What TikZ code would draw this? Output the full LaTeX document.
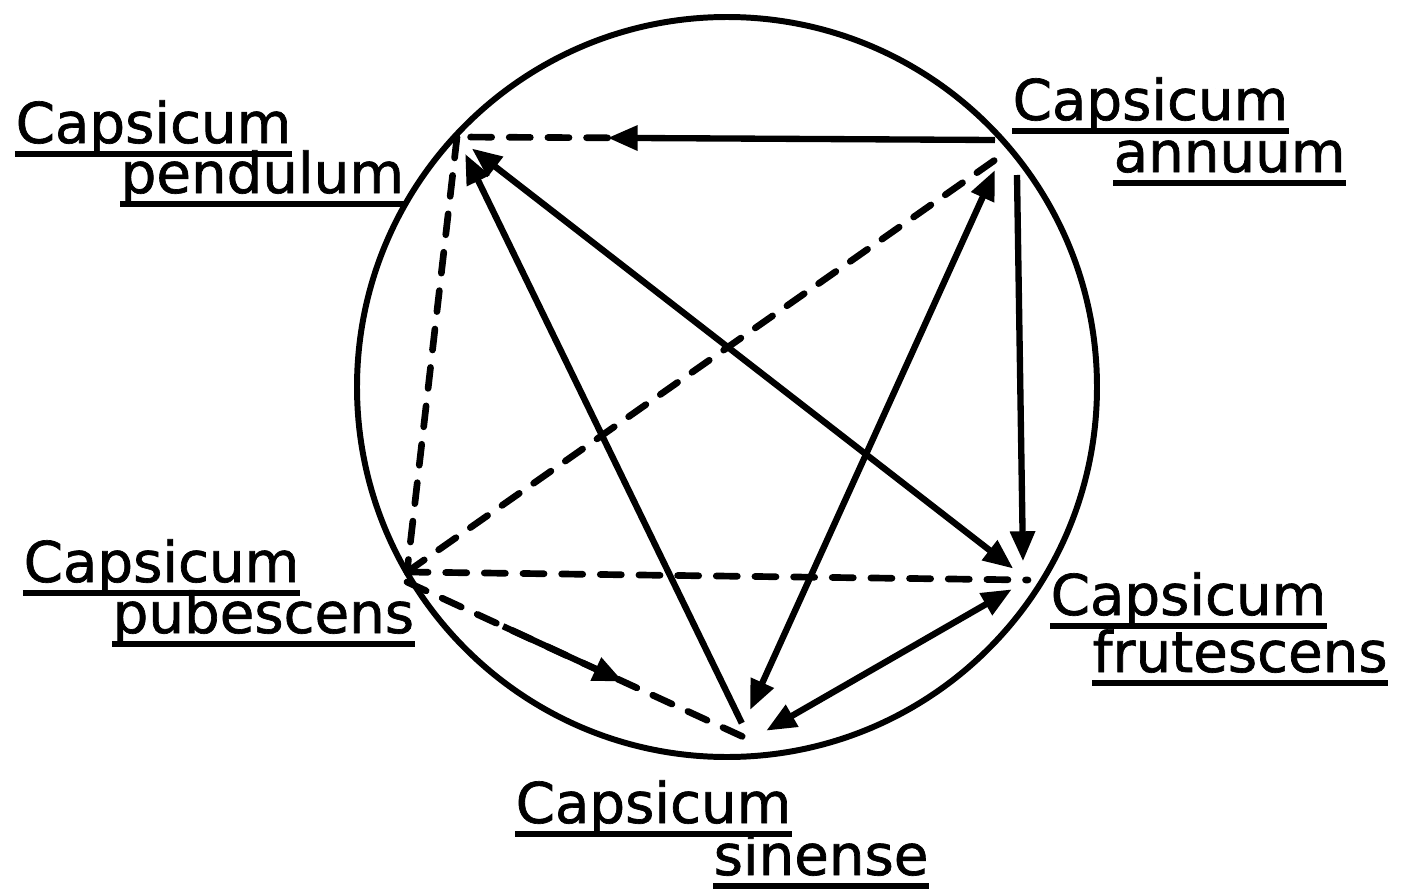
\documentclass[tikz,border=0pt]{standalone}
\usepackage{fontspec}
\setmainfont{DejaVu Sans}
\usepackage{tikz}
\usetikzlibrary{arrows.meta, calc}
\tikzset{
  vtx/.style={circle, inner sep=0pt, minimum size=3.6mm},
  spname/.style={inner sep=0pt, anchor=base west,
                 font=\fontsize{16}{19}\selectfont\addfontfeatures{FakeBold=1.2}},
  uline/.style={line width=1.6pt},
  ring/.style={line width=1.7pt},
  arr/.style={-{Triangle[length=3mm, width=2.4mm]}, line width=1.8pt},
  arrr/.style={{Triangle[length=3mm, width=2.4mm]}-{Triangle[length=3mm, width=2.4mm]}, line width=1.8pt},
  dashline/.style={line width=1.9pt, line cap=round, dash pattern=on 6pt off 5pt},
}

\begin{document}
\begin{tikzpicture}
\useasboundingbox (0,0) rectangle (14.28,8.88);

\draw[ring] (7.27,5.01) circle (3.70);

% punkty na okregu
\node[vtx] (P) at (4.57, 7.51) {};
\node[vtx] (A) at (9.95, 7.48) {};
\node[vtx] (U) at (4.07, 3.16) {};
\node[vtx] (F) at (10.28, 3.08) {};
\node[vtx] (S) at (7.50, 1.48) {};

% nazwy gatunkow
\node[spname] (pA) at (0.15, 7.45) {Capsicum};
\node[spname] (pB) at (1.20, 6.95) {pendulum};
\node[spname] (aA) at (10.12, 7.68) {Capsicum};
\node[spname] (aB) at (11.13, 7.16) {annuum};
\node[spname] (uA) at (0.23, 3.06) {Capsicum};
\node[spname] (uB) at (1.12, 2.55) {pubescens};
\node[spname] (fA) at (10.50, 2.73) {Capsicum};
\node[spname] (fB) at (10.92, 2.16) {frutescens};
\node[spname] (sA) at (5.15, 0.65) {Capsicum};
\node[spname] (sB) at (7.13, 0.13) {sinense};
\foreach \n in {pA,pB,aA,aB,uA,uB,fA,fB,sA,sB}
  \draw[uline] ([yshift=-1.1mm]\n.base west) -- ([yshift=-1.1mm]\n.base east);

% linie przerywane
\draw[dashline] (P.center) -- (U.center);
\draw[dashline] (U.center) -- ([yshift=-2mm]A.center);
\draw[dashline] (U.center) -- (F.center);
\coordinate (U1) at ([yshift=-1mm]U.center);
\draw[dashline] (U1) -- (S.center);
\draw[arr] ($(U1)!0.28!(S.center)$) -- ($(U1)!0.63!(S.center)$);
\draw[arr] (A.center) -- ($(A.center)!0.72!(P.center)$) coordinate (mAP);
\draw[dashline] (mAP) -- (P.center);

% strzalki
\draw[arr] (S) -- (P);
\draw[arrr] (P) -- (F);
\draw[arrr] ([yshift=-3mm]A.center) -- ([yshift=3mm]S.center);
\draw[arrr] (S) -- (F);
\draw[arr] ([xshift=2.2mm, yshift=-3.5mm]A.center) -- ([xshift=-0.5mm]F.north);
\end{tikzpicture}
\end{document}
